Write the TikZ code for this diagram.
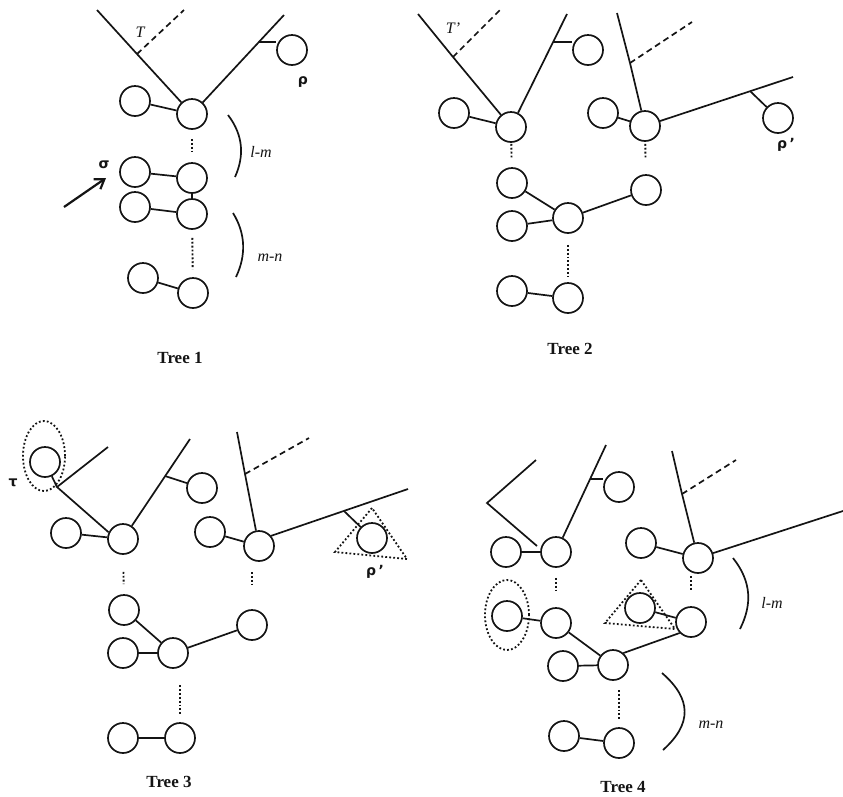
\documentclass[tikz,border=0pt]{standalone}
\usepackage{fontspec}
\setmainfont{Liberation Serif}
\newfontfamily\grkfont{DejaVu Sans}
\usetikzlibrary{arrows.meta}
\definecolor{inkblack}{RGB}{20,20,20}

\begin{document}
\begin{tikzpicture}[x=1pt, y=-1pt, line width=1.7pt, inkblack,
    vtx/.style={circle, draw, minimum size=30pt, inner sep=0pt},
    dots/.style={line width=1.9pt, dash pattern=on 1.9pt off 2pt, shorten <=9pt, shorten >=9pt},
    brokenline/.style={dash pattern=on 6pt off 4pt},
    halo/.style={line width=1.8pt, dash pattern=on 1.8pt off 2.2pt},
    lbl/.style={font=\fontsize{16}{16}\selectfont\itshape},
    grk/.style={font=\grkfont\bfseries\fontsize{14}{14}\selectfont},
    caption/.style={font=\fontsize{17}{17}\selectfont\bfseries}]
    \useasboundingbox (0,0) rectangle (843,796);

    % Tree 1
    \node[vtx] (a1) at (192,114) {};
    \node[vtx] (a1l) at (135,101) {};
    \node[vtx] (a2) at (192,178) {};
    \node[vtx] (a2l) at (135,172) {};
    \node[vtx] (a3) at (192,214) {};
    \node[vtx] (a3l) at (135,207) {};
    \node[vtx] (a4) at (193,293) {};
    \node[vtx] (a4l) at (143,278) {};
    \node[vtx] (rhoa) at (292,50) {};
    \coordinate (aT) at (137,54);
    \coordinate (aTend) at (97,10);
    \coordinate (aTdash) at (184,10);
    \coordinate (aR) at (259,42);
    \coordinate (aRend) at (284,15);
    \draw (a1) -- (aT) -- (aTend);
    \draw[brokenline] (aT) -- (aTdash);
    \draw (a1) -- (aRend);
    \draw (aR) -- (aR -| rhoa.west);
    \draw (a1l) -- (a1);
    \draw[dots] (a1) -- (a2);
    \draw (a2l) -- (a2);
    \draw (a2) -- (a3);
    \draw (a3l) -- (a3);
    \draw[dots, shorten <=8pt, shorten >=8pt] (a3) -- (a4);
    \draw (a4l) -- (a4);
    \node[lbl] (Ta) at (140,32) {T};
    \node[grk] (rholab) at (303,82) {ρ};
    \node[grk] (siglab) at (104,165) {σ};
    \coordinate (sigtail) at (64,207);
    \coordinate (sighead) at (106,178);
    \draw[line width=2.2pt, -{Straight Barb[length=9pt, width=12pt]}] (sigtail) -- (sighead);
    \draw (228,115) .. controls (244,136) and (244,157) .. (235,177);
    \draw (233,213) .. controls (246,234) and (246,256) .. (236,277);
    \node[lbl] (lma) at (261,152) {l-m};
    \node[lbl] (mna) at (270,258) {m-n};
    \node[caption] (cap1) at (180,358) {Tree 1};

    % Tree 2
    \node[vtx] (b1) at (511,127) {};
    \node[vtx] (b1l) at (454,113) {};
    \node[vtx] (b2) at (645,126) {};
    \node[vtx] (b2l) at (603,113) {};
    \node[vtx] (b3) at (512,183) {};
    \node[vtx] (b4) at (568,218) {};
    \node[vtx] (b4l) at (512,226) {};
    \node[vtx] (b5) at (646,190) {};
    \node[vtx] (b6) at (568,298) {};
    \node[vtx] (b6l) at (512,291) {};
    \node[vtx] (bR) at (588,50) {};
    \node[vtx] (rhob) at (778,118) {};
    \coordinate (bT) at (453,57);
    \coordinate (bTend) at (418,14);
    \coordinate (bTdash) at (502,8);
    \coordinate (bU) at (553,42);
    \coordinate (bUend) at (567,14);
    \coordinate (bW) at (630,63);
    \coordinate (bWend) at (617,13);
    \coordinate (bWdash) at (692,22);
    \coordinate (bV) at (750,91);
    \coordinate (bVend) at (793,77);
    \draw (b1) -- (bT) -- (bTend);
    \draw[brokenline] (bT) -- (bTdash);
    \draw (b1) -- (bUend);
    \draw (bU) -- (bU -| bR.west);
    \draw (b1l) -- (b1);
    \draw (b2) -- (bW) -- (bWend);
    \draw[brokenline] (bW) -- (bWdash);
    \draw (b2l) -- (b2);
    \draw (b2) -- (bVend);
    \draw (bV) -- (rhob);
    \draw[dots, shorten <=1pt, shorten >=8pt] (b1) -- (b3);
    \draw (b3) -- (b4);
    \draw (b4l) -- (b4);
    \draw (b4) -- (b5);
    \draw[dots, shorten <=2pt, shorten >=16pt] (b2) -- (b5);
    \draw[dots, shorten <=11pt, shorten >=5pt] (b4) -- (b6);
    \draw (b6l) -- (b6);
    \node[lbl] (Tb) at (453,28) {T'};
    \node[grk] (rhoblab) at (786,145) {ρ\,’};
    \node[caption] (cap2) at (570,349) {Tree 2};

    % Tree 3
    \node[vtx] (c1) at (123,539) {};
    \node[vtx] (c1l) at (66,533) {};
    \node[vtx] (tau) at (45,462) {};
    \node[vtx] (cR) at (202,488) {};
    \node[vtx] (c2) at (259,546) {};
    \node[vtx] (c2l) at (210,532) {};
    \node[vtx] (rhoc) at (372,538) {};
    \node[vtx] (c3) at (124,610) {};
    \node[vtx] (c4) at (173,653) {};
    \node[vtx] (c4l) at (123,653) {};
    \node[vtx] (c5) at (252,625) {};
    \node[vtx] (c6) at (180,738) {};
    \node[vtx] (c6l) at (123,738) {};
    \coordinate (cJ) at (57,487);
    \coordinate (cJend) at (108,447);
    \coordinate (cU) at (165,476);
    \coordinate (cUend) at (190,439);
    \coordinate (cW) at (245,474);
    \coordinate (cWend) at (237,432);
    \coordinate (cWdash) at (309,438);
    \coordinate (cV) at (344,511);
    \coordinate (cVend) at (408,489);
    \draw (c1.155) -- (cJ) -- (cJend);
    \draw (tau) -- (cJ);
    \draw (c1l) -- (c1);
    \draw (c1) -- (cUend);
    \draw (cU) -- (cR);
    \draw (c2) -- (cW) -- (cWend);
    \draw[brokenline] (cW) -- (cWdash);
    \draw (c2l) -- (c2);
    \draw (c2.40) -- (cVend);
    \draw (cV) -- (rhoc);
    \draw[halo] (44,456) ellipse [x radius=21pt, y radius=35pt];
    \draw[halo] (372,508) -- (335,552) -- (407,559) -- cycle;
    \draw[dots, shorten <=17pt, shorten >=10pt] (c1) -- (c3);
    \draw (c3) -- (c4);
    \draw (c4l) -- (c4);
    \draw (c4) -- (c5);
    \draw[dots, shorten <=26pt, shorten >=25pt] (c2 -| c5) -- (c5);
    \draw[dots, shorten <=32pt, shorten >=6pt] (c4 -| c6) -- (c6);
    \draw (c6l) -- (c6);
    \node[grk] (taulab) at (13,483) {τ};
    \node[grk] (rhoclab) at (375,572) {ρ\,’};
    \node[caption] (cap3) at (169,782) {Tree 3};

    % Tree 4
    \node[vtx] (d1) at (556,552) {};
    \node[vtx] (d1l) at (506,552) {};
    \node[vtx] (dR) at (619,487) {};
    \node[vtx] (d2) at (698,558) {};
    \node[vtx] (d2l) at (641,543) {};
    \node[vtx] (d3) at (556,623) {};
    \node[vtx] (d3l) at (507,616) {};
    \node[vtx] (d4) at (613,665) {};
    \node[vtx] (d4l) at (563,666) {};
    \node[vtx] (d5) at (691,622) {};
    \node[vtx] (d5l) at (640,608) {};
    \node[vtx] (d6) at (619,743) {};
    \node[vtx] (d6l) at (564,736) {};
    \coordinate (dVa) at (536,460);
    \coordinate (dVb) at (487,503);
    \coordinate (dVc) at (537,546);
    \coordinate (dU) at (590,479);
    \coordinate (dUend) at (606,445);
    \coordinate (dW) at (682,494);
    \coordinate (dWend) at (672,451);
    \coordinate (dWdash) at (736,460);
    \coordinate (dVend) at (843,511);
    \draw (dVa) -- (dVb) -- (dVc);
    \draw (d1l) -- (d1);
    \draw (d1) -- (dUend);
    \draw (dU) -- (dU -| dR.west);
    \draw (d2) -- (dW) -- (dWend);
    \draw[brokenline] (dW) -- (dWdash);
    \draw (d2l) -- (d2);
    \draw (d2) -- (dVend);
    \draw[dots, shorten <=10pt, shorten >=15pt] (d1) -- (d3);
    \draw (d3l) -- (d3);
    \draw (d3) -- (d4);
    \draw (d4l) -- (d4);
    \draw (d4.49) -- (d5.224);
    \draw (d5l) -- (d5);
    \draw[dots, shorten <=18pt, shorten >=15pt] (d2 -| d5) -- (d5);
    \draw[dots, shorten <=25pt, shorten >=6pt] (d4 -| d6) -- (d6);
    \draw (d6l) -- (d6);
    \draw[halo] (507,615) ellipse [x radius=22pt, y radius=35pt];
    \draw[halo] (641,580) -- (605,623) -- (675,629) -- cycle;
    \draw (733,558) .. controls (752,582) and (752,605) .. (740,629);
    \draw (662,673) .. controls (692,699) and (692,724) .. (663,750);
    \node[lbl] (lmd) at (772,603) {l-m};
    \node[lbl] (mnd) at (711,725) {m-n};
    \node[caption] (cap4) at (623,787) {Tree 4};
\end{tikzpicture}
\end{document}
